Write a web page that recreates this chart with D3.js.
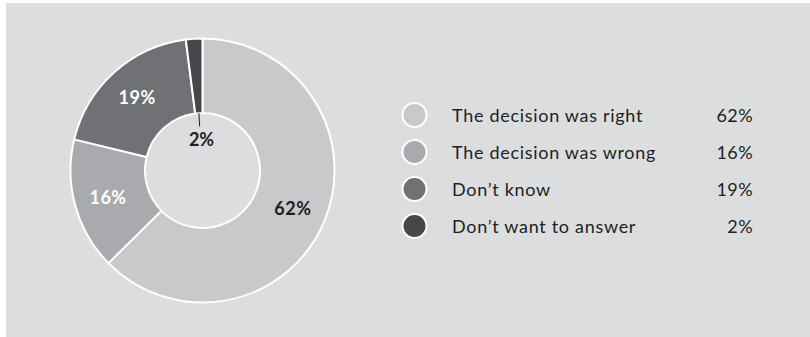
<!DOCTYPE html>
<html>
<head>
<meta charset="utf-8">
<script src="https://cdn.jsdelivr.net/npm/d3@7"></script>
<style>
  html, body { margin: 0; padding: 0; background: #ffffff; }
  svg { display: block; }
  text { font-family: Lato, "Open Sans", sans-serif; }
</style>
</head>
<body>
<svg id="chart" width="810" height="337"></svg>
<script>
// Survey answers
const categories = ["The decision was right", "The decision was wrong", "Don\u2019t know", "Don\u2019t want to answer"];
const values = [62, 16, 19, 2];
const valueLabels = ["62%", "16%", "19%", "2%"];
const colors = ["#c8c9cb", "#a9aaad", "#707175", "#46474b"];
const labelColors = ["#231f20", "#ffffff", "#ffffff", "#231f20"];

const svg = d3.select("#chart");

// panel background
svg.append("rect")
  .attr("x", 6).attr("y", 3)
  .attr("width", 804).attr("height", 334)
  .attr("fill", "#dcdddf");

const cx = 202.5, cy = 170.5;
const outerR = 132, innerR = 57.5, labelR = 98;

const data = categories.map((c, i) => ({ name: c, value: values[i], label: valueLabels[i], color: colors[i], textColor: labelColors[i] }));

const pie = d3.pie().value(d => d.value).sort(null);
const arcs = pie(data);
const arc = d3.arc().innerRadius(innerR).outerRadius(outerR);
const labelArc = d3.arc().innerRadius(labelR).outerRadius(labelR);

const g = svg.append("g").attr("transform", `translate(${cx},${cy})`);

g.selectAll("path.slice")
  .data(arcs)
  .join("path")
  .attr("class", "slice")
  .attr("d", arc)
  .attr("fill", d => d.data.color)
  .attr("stroke", "#ffffff")
  .attr("stroke-width", 2)
  .attr("stroke-linejoin", "round");

// slice labels; the thin slice gets its label inside the hole with a leader
arcs.forEach((a, i) => {
  const mid = (a.startAngle + a.endAngle) / 2;
  if (a.data.value < 5) {
    const r1 = innerR, r2 = 44;
    g.append("line")
      .attr("x1", Math.sin(mid) * r1).attr("y1", -Math.cos(mid) * r1)
      .attr("x2", Math.sin(mid) * r2).attr("y2", -Math.cos(mid) * r2)
      .attr("stroke", "#231f20").attr("stroke-width", 1);
    g.append("text")
      .attr("x", Math.sin(mid) * 32 + 1).attr("y", -Math.cos(mid) * 32)
      .attr("text-anchor", "middle")
      .attr("dominant-baseline", "central")
      .attr("font-size", 18).attr("font-weight", 700)
      .attr("fill", a.data.textColor)
      .text(a.data.label);
  } else {
    const [lx, ly] = labelArc.centroid(a);
    g.append("text")
      .attr("x", lx).attr("y", ly)
      .attr("text-anchor", "middle")
      .attr("dominant-baseline", "central")
      .attr("font-size", 18).attr("font-weight", 700)
      .attr("letter-spacing", 0.5)
      .attr("fill", a.data.textColor)
      .text(a.data.label);
  }
});

// legend
const rowY = d3.scalePoint().domain(categories).range([115, 226]);
const legend = svg.append("g");
const rows = legend.selectAll("g.row").data(data).join("g")
  .attr("class", "row")
  .attr("transform", d => `translate(0,${rowY(d.name)})`);

rows.append("circle")
  .attr("cx", 414.5).attr("cy", 0).attr("r", 12)
  .attr("fill", d => d.color)
  .attr("stroke", "#ffffff").attr("stroke-width", 2);

rows.append("text")
  .attr("x", 452).attr("y", 0)
  .attr("dominant-baseline", "central")
  .attr("font-size", 18)
  .attr("letter-spacing", 0.7)
  .attr("fill", "#231f20")
  .text(d => d.name);

rows.append("text")
  .attr("x", 753).attr("y", 0)
  .attr("text-anchor", "end")
  .attr("dominant-baseline", "central")
  .attr("font-size", 18)
  .attr("letter-spacing", 0.4)
  .attr("fill", "#231f20")
  .text(d => d.label);
</script>
</body>
</html>
